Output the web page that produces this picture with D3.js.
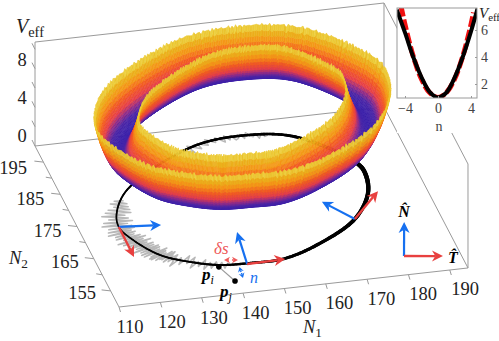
<!DOCTYPE html>
<html>
<head>
<meta charset="utf-8">
<script src="https://cdn.jsdelivr.net/npm/d3@7"></script>
<style>
  html, body { margin: 0; padding: 0; background: #fff; }
  svg { display: block; }
  text { font-family: "Liberation Serif", serif; }
</style>
</head>
<body>
<svg id="chart" width="499" height="341"></svg>
<script>
const ringN1 = [120.7, 119.5, 121.2, 125.6, 131.6, 138.1, 145.2, 153.2, 162.6, 174.4, 180.5, 182.2, 181.5, 170.9, 160.4, 145.8, 125.8];
const ringN2 = [177.7, 173.5, 169.2, 163.9, 160.9, 159.0, 158.6, 158.7, 161.7, 168.1, 175.3, 181.3, 184.4, 194.0, 196.2, 194.6, 184.1];

// cross section of the trough
const surfaceN = [-4, -3.75, -3.5, -3.25, -3, -2.75, -2.5, -2.25, -2, -1.75, -1.5, -1.25, -1, -0.75, -0.5, -0.25, 0, 0.25, 0.5, 0.75, 1, 1.25, 1.5, 1.75, 2, 2.25, 2.5, 2.75, 3, 3.25, 3.5, 3.75, 4];
const surfaceV = [4.45, 3.9, 3.4, 2.92, 2.5, 2.14, 1.8, 1.48, 1.2, 0.93, 0.7, 0.5, 0.32, 0.19, 0.09, 0.02, 0, 0.02, 0.09, 0.19, 0.32, 0.5, 0.7, 0.93, 1.2, 1.48, 1.8, 2.14, 2.5, 2.92, 3.4, 3.9, 4.45];
const rimJagA = [0.05, -0.08, 0.11, -0.02, 0.07, -0.12, 0.02, 0.1, -0.06, 0.12, -0.1, 0.01, 0.06, -0.04, 0.1, -0.11, 0.03, -0.07, 0.09, -0.02, 0.04, -0.1, 0.12];
const rimJagB = [-0.04, 0.06, 0.02, -0.08, 0.09, -0.02, 0.05, -0.06, 0.08, 0.01, -0.09, 0.04, -0.03];

// gray trajectory: offset across the ring at successive stations
const grayLeft = [0.6, -1, 1.4, -1.5, 1.8, -0.7, 2.2, -1.6, 2.5, -2, 1.5, -2.6, 2.1, -1.4, 2.8, -2.4, 1.8, -2.9, 2.4, -2, 2.6, -2.5, 1.7, -3, 2.1, -2.1, 1.4, -2.5, 2.2, -1.5, 2.8, -3.2, 1.8, -2.6, 2.9, -2.2, 1.6, -2.8, 2.4, -1.6, 2, -3, 2.5, -1.9, 2.2, -2.4, 1.6, -2.5, 2.8, -1.6, 1.9, -2.4, 1.3, -2.1, 2.4, -1.3, 1.6, -1.9, 1, -1.4, 0.8, -1];
const grayFront = [1.2, -2.4, 0.8, -1.4, 2.6, -0.6, 1.8, -2.8, 1, -1.6, 2.2, -0.8, 2, -2.2, 0.6, -1.2, 1.6, -2, 0.8, -1.4, 1.2, -0.8, 1, -1.2, 0.6, -0.4];
const grayTop = [0.4, 0.9, -0.6, 1.5, -0.4, 0.8, 0.3, -1, 1.2, -0.5, 0.9, 1.4, -0.3, 1.1, -0.8, 1.6, 0.4, -0.6, 1, 0.2, -0.9, 1.3, 0.6, -0.4, 1.7, 0.5, -0.8, 2, 0.4, 0.2];

// tangent/normal arrows, in floor coordinates
const arrowBaseN1 = [119.5, 144.4, 174.4, 181.2];
const arrowBaseN2 = [173.5, 158.4, 168.1, 155.6];
const normalTipN1 = [129.4, 145.9, 168.9, 185.3];
const normalTipN2 = [172.7, 168.1, 174.2, 165.6];
const tangentTipN1 = [119.4, 153.7, 183.0, 190.1];
const tangentTipN2 = [164.2, 158.6, 175.5, 154.3];

// axes
const n1Ticks = [110, 120, 130, 140, 150, 160, 170, 180, 190];
const n2Ticks = [155, 160, 165, 170, 175, 180, 185, 190, 195];
const n2Labels = [155, 165, 175, 185, 195];
const vTicks = [0, 2, 4, 6, 8, 10];
const vLabels = [0, 4, 8];

// inset curves
const insetBlackN = [-5, -4, -3, -2, -1, 0, 1, 2, 3, 4, 4.8];
const insetBlackV = [7.5, 5.8, 4.0, 2.5, 1.4, 1.0, 1.35, 2.45, 4.0, 5.9, 7.6];
const insetRedN = [-4.5, -4, -3, -2, -1, 0, 1, 2, 3, 4, 4.3];
const insetRedV = [7.8, 6.4, 4.05, 2.35, 1.35, 1.0, 1.35, 2.35, 4.05, 6.4, 7.3];

const RED = "#e8403f", BLUE = "#1670f0", GRAY = "#9a9a9a", INK = "#222";
const LIFT = 5.8;        // surface floats above the floor
const STATIONS = 400;
const RIM_N1 = 5.3, RIM_N2 = 3.1;   // how far n = 4 reaches on the floor

const svg = d3.select("#chart");

// affine view of the box
const n1X = d3.scaleLinear([110, 190], [119, 449.8]);
const n1Y = d3.scaleLinear([110, 190], [307, 270]);
const n2X = d3.scaleLinear([150, 200], [0, -84]);
const n2Y = d3.scaleLinear([150, 200], [0, -161]);
const vY = d3.scaleLinear([0, 10], [0, -96.7]);
function project(a, b, z) {
  return [n1X(a) + n2X(b), n1Y(a) + n2Y(b) + vY(z || 0)];
}

const heat = d3.scaleLinear()
  .domain([0, 0.13, 0.25, 0.36, 0.52, 0.68, 0.88, 1])
  .range(["#3a1fa8", "#4a25a6", "#962c84", "#e63f48", "#f25a22", "#f59216", "#e8b81c", "#efd84c"])
  .clamp(true);

// sample the ring through a closed d3 curve, on the floor as it is seen
const ringPts = ringN1.map((d, i) => project(d, ringN2[i]));
const helper = svg.append("path").attr("d", d3.line().curve(d3.curveCatmullRomClosed)(ringPts)).attr("fill", "none");
const total = helper.node().getTotalLength();
const det = n1X(111) - n1X(110), det2 = n1Y(111) - n1Y(110);
const ex = n2X(151), ey = n2Y(151);
function toFloor(x, y) {
  const dx = x - project(110, 150)[0], dy = y - project(110, 150)[1];
  const d = det * ey - det2 * ex;
  return { a: 110 + (dx * ey - dy * ex) / d, b: 150 + (det * dy - det2 * dx) / d };
}
const stations = d3.range(STATIONS).map(i => {
  const p = helper.node().getPointAtLength(total * i / STATIONS);
  return toFloor(p.x, p.y);
});
helper.remove();
stations.forEach((s, i) => {
  const p = stations[(i + STATIONS - 2) % STATIONS], q = stations[(i + 2) % STATIONS];
  const tu = (q.a - p.a) / RIM_N1, tv = (q.b - p.b) / RIM_N2, len = Math.hypot(tu, tv);
  s.na = -tv / len * RIM_N1;
  s.nb = tu / len * RIM_N2;
});
function across(s, n) {
  return [s.a + s.na * n / 4, s.b + s.nb * n / 4];
}

// box lines behind the surface
function boxLine(p, q) {
  svg.append("line").attr("x1", p[0]).attr("y1", p[1]).attr("x2", q[0]).attr("y2", q[1])
    .attr("stroke", GRAY).attr("stroke-width", 1);
}
const A = project(110, 150), B = project(194.4, 150), C = project(194.4, 200), D = project(110, 200);
const top0 = 10.75;
boxLine(A, B); boxLine(A, D); boxLine(D, C); boxLine(B, C);
boxLine(D, project(110, 200, top0));
boxLine(project(110, 200, top0), project(194.4, 200, top0));
boxLine(C, project(194.4, 200, top0));
boxLine(B, project(194.4, 150, top0));
boxLine(project(194.4, 150, top0), project(194.4, 200, top0));

// ticks
n1Ticks.forEach(t => {
  const p = project(t, 150);
  boxLine(p, [p[0] + 1.5, p[1] + 5]);
});
n2Ticks.forEach(t => {
  const p = project(110, t);
  const len = n2Labels.includes(t) ? 9 : 6;
  boxLine(p, [p[0] - len, p[1] - 1]);
});
vTicks.forEach(t => {
  const p = project(110, 200, t);
  boxLine(p, [p[0] - 3, p[1] - 6]);
});

function tickText(x, y, s) {
  return svg.append("text").attr("x", x).attr("y", y).attr("text-anchor", "middle")
    .attr("dominant-baseline", "central").attr("font-size", 18.5).attr("fill", INK).text(s);
}
const n1LabelX = d3.scaleLinear([110, 190], [130, 465]);
const n1LabelY = d3.scaleLinear([110, 190], [327, 289]);
n1Ticks.forEach(t => tickText(n1LabelX(t), n1LabelY(t), t));
const n2LabelX = d3.scaleLinear([155, 195], [82, 13]);
const n2LabelY = d3.scaleLinear([155, 195], [293, 168]);
n2Labels.forEach(t => tickText(n2LabelX(t), n2LabelY(t), t));
const vLabelY = d3.scaleLinear([0, 8], [136, 60]);
vLabels.forEach(t => tickText(22, vLabelY(t), t));

function subLabel(x, y, main, sub, size) {
  const t = svg.append("text").attr("x", x).attr("y", y).attr("fill", INK).attr("font-size", size);
  t.append("tspan").attr("font-style", "italic").text(main);
  t.append("tspan").attr("font-size", size * 0.72).attr("dy", size * 0.2).text(sub);
  return t;
}
subLabel(16, 33, "V", "eff", 20);
subLabel(9, 264, "N", "2", 18.5);
subLabel(303, 333, "N", "1", 18.5);

// gray trajectory on the floor
function grayPath(start, list, step) {
  const pts = list.map((n, i) => {
    const s = stations[(start + i * step + STATIONS) % STATIONS];
    const c = across(s, n);
    return project(c[0], c[1]);
  });
  svg.append("path").attr("d", d3.line()(pts)).attr("fill", "none")
    .attr("stroke", "#b8b8b8").attr("stroke-width", 1.5).attr("stroke-linejoin", "round");
}
grayPath(-18, grayLeft, 1);
grayPath(30, grayFront, 2);
grayPath(272, grayTop, 2);

// black ring, thin where the data is noisy
const ringWidth = d3.scaleLinear([0, 80, 124, 179, 198, 262, 332, 400], [1.5, 2.2, 3, 4, 4.5, 2.6, 2.4, 1.5]);
stations.forEach((s, i) => {
  const q = stations[(i + 1) % STATIONS];
  const p0 = project(s.a, s.b), p1 = project(q.a, q.b);
  svg.append("line").attr("x1", p0[0]).attr("y1", p0[1]).attr("x2", p1[0]).attr("y2", p1[1])
    .attr("stroke", "#000").attr("stroke-width", ringWidth(i)).attr("stroke-linecap", "round");
});

// surface quads, painted back to front
function jag(i, n) {
  const k = Math.abs(n) / 4;
  return (rimJagA[i % rimJagA.length] + rimJagB[i % rimJagB.length]) * k * k;
}
const quads = [];
stations.forEach((s, i) => {
  const q = stations[(i + 1) % STATIONS];
  for (let j = 0; j < surfaceN.length - 1; j++) {
    const n0 = surfaceN[j], n1 = surfaceN[j + 1];
    const v0 = surfaceV[j] + jag(i, n0), v1 = surfaceV[j + 1] + jag(i, n1);
    const v0b = surfaceV[j] + jag(i + 1, n0), v1b = surfaceV[j + 1] + jag(i + 1, n1);
    const c00 = across(s, n0), c01 = across(s, n1), c10 = across(q, n0), c11 = across(q, n1);
    const pts = [
      project(c00[0], c00[1], LIFT + v0),
      project(c01[0], c01[1], LIFT + v1),
      project(c11[0], c11[1], LIFT + v1b),
      project(c10[0], c10[1], LIFT + v0b)
    ];
    const ma = (c00[0] + c11[0]) / 2, mb = (c00[1] + c11[1]) / 2, mv = (v0 + v1) / 2;
    quads.push({ pts, depth: 0.1 * ma + mb - 0.7 * (LIFT + mv), level: mv / 4.45 });
  }
});
quads.sort((p, q) => q.depth - p.depth);
svg.append("g").selectAll("path").data(quads).enter().append("path")
  .attr("d", d => d3.line()(d.pts) + "Z")
  .attr("fill", d => heat(d.level))
  .attr("stroke", d => heat(d.level))
  .attr("stroke-width", 0.5);

// arrows
function arrow(p, q, color, w, hl, hw) {
  const ang = Math.atan2(q[1] - p[1], q[0] - p[0]);
  const cs = Math.cos(ang), sn = Math.sin(ang);
  const neck = [q[0] - cs * hl * 0.7, q[1] - sn * hl * 0.7];
  svg.append("line").attr("x1", p[0]).attr("y1", p[1]).attr("x2", neck[0]).attr("y2", neck[1])
    .attr("stroke", color).attr("stroke-width", w);
  const wing = s => [q[0] - cs * hl - s * sn * hw, q[1] - sn * hl + s * cs * hw];
  svg.append("path").attr("d", d3.line()([q, wing(1), neck, wing(-1)]) + "Z").attr("fill", color);
}
arrowBaseN1.forEach((d, i) => {
  const base = project(d, arrowBaseN2[i]);
  arrow(base, project(normalTipN1[i], normalTipN2[i]), BLUE, 2.2, 11, 5.5);
  arrow(base, project(tangentTipN1[i], tangentTipN2[i]), RED, 2.4, 11, 5.5);
});

// local frame annotation near p_i and p_j
const pi = project(137.6, 158.5), pj = project(139.6, 153.8);
svg.append("line").attr("x1", pi[0]).attr("y1", pi[1]).attr("x2", pj[0]).attr("y2", pj[1])
  .attr("stroke", GRAY).attr("stroke-width", 1.2);
[pi, pj].forEach(p => svg.append("circle").attr("cx", p[0]).attr("cy", p[1]).attr("r", 2.8).attr("fill", "#000"));
arrow([229, 260], [224, 260], "#ee5a5a", 1.4, 6, 3.2);
arrow([232, 260], [238, 260], "#ee5a5a", 1.4, 6, 3.2);
arrow([241, 272], [239.5, 267], BLUE, 1.4, 5, 3);
arrow([241.5, 273], [243, 278], BLUE, 1.4, 5, 3);

function noteLabel(x, y, main, sub, color) {
  const t = svg.append("text").attr("x", x).attr("y", y).attr("fill", color).attr("font-size", 17)
    .attr("font-style", "italic").attr("font-weight", "bold");
  t.append("tspan").text(main);
  t.append("tspan").attr("font-size", 12).attr("font-weight", "normal").attr("dy", 4).text(sub);
}
noteLabel(202, 280, "p", "i", "#000");
noteLabel(220, 297, "p", "j", "#000");
svg.append("text").attr("x", 214).attr("y", 254).attr("fill", "#ee5a5a").attr("font-size", 17)
  .attr("font-style", "italic").text("δs");
svg.append("text").attr("x", 250).attr("y", 283).attr("fill", BLUE).attr("font-size", 16)
  .attr("font-style", "italic").text("n");
svg.append("text").attr("x", 404).attr("y", 217).attr("text-anchor", "middle").attr("fill", "#000")
  .attr("font-size", 16).attr("font-weight", "bold").attr("font-style", "italic").text("N\u0302");
svg.append("text").attr("x", 453).attr("y", 263).attr("text-anchor", "middle").attr("fill", "#000")
  .attr("font-size", 16).attr("font-weight", "bold").attr("font-style", "italic").text("T\u0302");

// inset
svg.append("rect").attr("x", 397).attr("y", 0).attr("width", 102).attr("height", 133).attr("fill", "#fff");
const insetX = d3.scaleLinear([-4, 4], [405, 471]);
const insetY = d3.scaleLinear([2, 6], [84, 30]);
const frame = { x0: 397, x1: 477, y0: 8, y1: 98 };

svg.append("clipPath").attr("id", "inset-clip").append("rect")
  .attr("x", frame.x0).attr("y", frame.y0).attr("width", frame.x1 - frame.x0).attr("height", frame.y1 - frame.y0);

const insetLine = d3.line().x(d => insetX(d[0])).y(d => insetY(d[1])).curve(d3.curveCatmullRom);
const insetG = svg.append("g").attr("clip-path", "url(#inset-clip)");
insetG.append("path").attr("d", insetLine(insetRedN.map((d, i) => [d, insetRedV[i]])))
  .attr("fill", "none").attr("stroke", "#f01010").attr("stroke-width", 5).attr("stroke-dasharray", "11 3");
insetG.append("path").attr("d", insetLine(insetBlackN.map((d, i) => [d, insetBlackV[i]])))
  .attr("fill", "none").attr("stroke", "#000").attr("stroke-width", 4);

svg.append("rect").attr("x", frame.x0).attr("y", frame.y0).attr("width", frame.x1 - frame.x0)
  .attr("height", frame.y1 - frame.y0).attr("fill", "none").attr("stroke", GRAY).attr("stroke-width", 1);

const xAxisG = svg.append("g").attr("transform", `translate(0,${frame.y1})`)
  .call(d3.axisBottom(insetX).tickValues([-4, 0, 4]).tickSize(-2).tickPadding(5).tickFormat(d3.format("d")));
const yAxisG = svg.append("g").attr("transform", `translate(${frame.x1},0)`)
  .call(d3.axisRight(insetY).tickValues([2, 4, 6]).tickSize(-2).tickPadding(4).tickFormat(d3.format("d")));
[xAxisG, yAxisG].forEach(g => {
  g.select(".domain").remove();
  g.selectAll("line").attr("stroke", GRAY);
  g.selectAll("text").attr("font-size", 14).attr("fill", "#444").attr("font-family", "Liberation Serif");
});
svg.append("text").attr("x", 439).attr("y", 131).attr("text-anchor", "middle")
  .attr("font-size", 14).attr("fill", "#444").text("n");
subLabel(479, 18, "V", "eff", 15);
</script>
</body>
</html>
